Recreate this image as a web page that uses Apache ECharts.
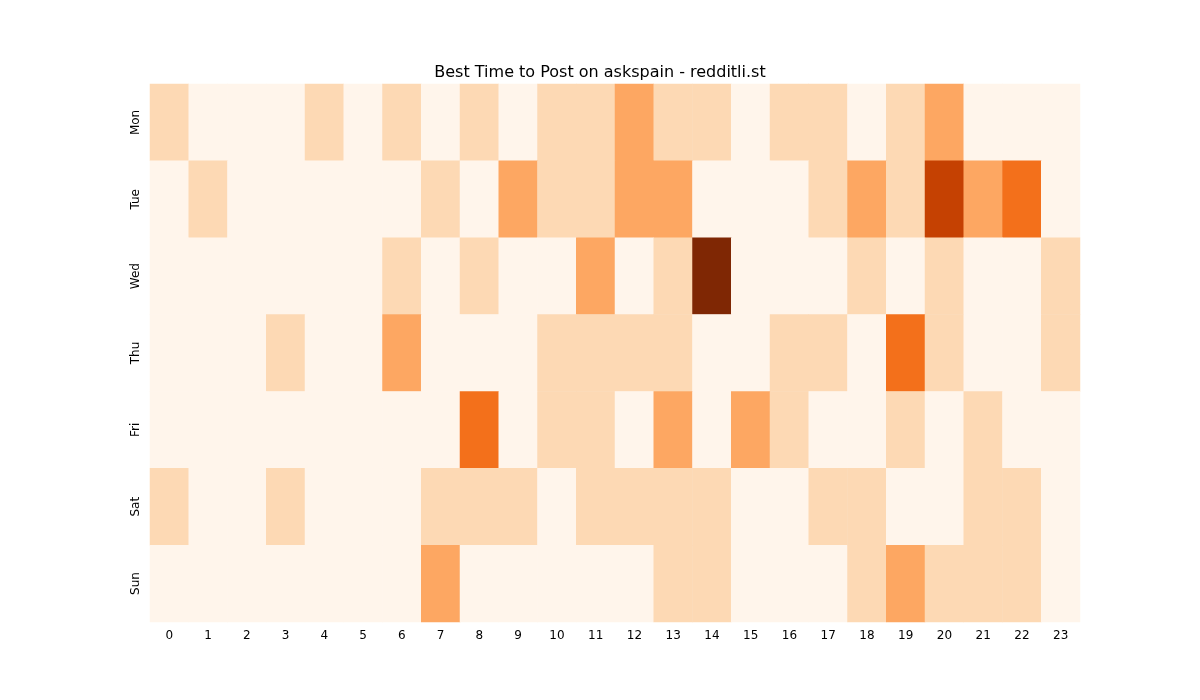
<!DOCTYPE html>
<html>
<head>
<meta charset="utf-8">
<script src="https://cdn.jsdelivr.net/npm/echarts@6/dist/echarts.min.js"></script>
<style>body{margin:0}#main{width:1200px;height:700px}</style>
</head>
<body>
<div id="main"></div>
<script>
var hours = [];
for (var h = 0; h < 24; h++) hours.push(String(h));
var days = ['Mon', 'Tue', 'Wed', 'Thu', 'Fri', 'Sat', 'Sun'];
// activity level per hour, one row per day
var mon = [1,0,0,0,1,0,1,0,1,0,1,1,2,1,1,0,1,1,0,1,2,0,0,0];
var tue = [0,1,0,0,0,0,0,1,0,2,1,1,2,2,0,0,0,1,2,1,4,2,3,0];
var wed = [0,0,0,0,0,0,1,0,1,0,0,2,0,1,5,0,0,0,1,0,1,0,0,1];
var thu = [0,0,0,1,0,0,2,0,0,0,1,1,1,1,0,0,1,1,0,3,1,0,0,1];
var fri = [0,0,0,0,0,0,0,0,3,0,1,1,0,2,0,2,1,0,0,1,0,1,0,0];
var sat = [1,0,0,1,0,0,0,1,1,1,0,1,1,1,1,0,0,1,1,0,0,1,1,0];
var sun = [0,0,0,0,0,0,0,2,0,0,0,0,0,1,1,0,0,0,1,2,1,1,1,0];
var rows = [mon, tue, wed, thu, fri, sat, sun];
var levelColors = ['#fff5eb', '#fdd9b4', '#fda762', '#f3701b', '#c54102', '#7f2704'];

var data = [];
rows.forEach(function (r, d) {
  r.forEach(function (v, h) { data.push([h, d, v]); });
});

var chart = echarts.init(document.getElementById('main'));
chart.setOption({
  animation: false,
  title: {
    text: 'Best Time to Post on askspain - redditli.st',
    left: 'center', top: 60,
    textStyle: { fontFamily: 'DejaVu Sans', fontSize: 16, fontWeight: 'normal', color: '#000' }
  },
  grid: { left: 150, right: 120, top: 84, bottom: 78 },
  xAxis: {
    type: 'category', data: hours,
    axisLine: { show: false },
    axisTick: { length: 4, lineStyle: { color: '#000' }, alignWithLabel: true },
    axisLabel: { color: '#000', fontFamily: 'DejaVu Sans', fontSize: 12 },
    splitLine: { show: false }
  },
  yAxis: {
    type: 'category', data: days, inverse: true,
    axisLine: { show: false },
    axisTick: { length: 4, lineStyle: { color: '#000' }, alignWithLabel: true },
    axisLabel: { color: '#000', fontFamily: 'DejaVu Sans', fontSize: 12, rotate: 90 },
    splitLine: { show: false }
  },
  visualMap: {
    show: false, type: 'piecewise', dimension: 2,
    pieces: levelColors.map(function (c, i) { return { value: i, color: c }; })
  },
  graphic: [{
    type: 'text', left: 550, top: 338,
    style: { text: 'redditli.st', fontSize: 26, fontFamily: 'DejaVu Sans', fill: 'rgba(128,128,128,0.55)' }
  }],
  series: [{
    type: 'heatmap', data: data,
    itemStyle: { borderWidth: 0 },
    emphasis: { disabled: true }
  }]
});
</script>
</body>
</html>
